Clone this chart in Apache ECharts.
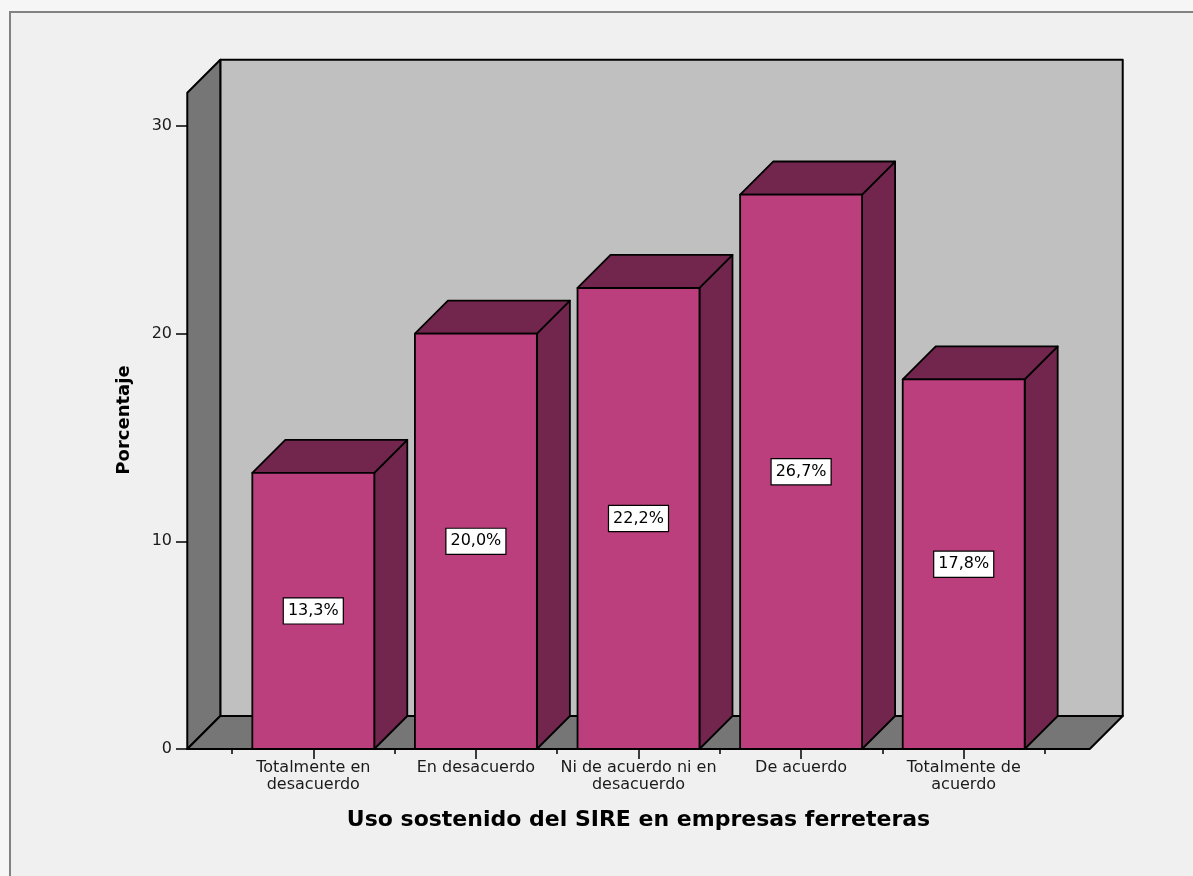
<!DOCTYPE html>
<html>
<head>
<meta charset="utf-8">
<title>Uso sostenido del SIRE en empresas ferreteras</title>
<script src="https://cdn.jsdelivr.net/npm/echarts@6/dist/echarts.min.js"></script>
<style>
  html, body { margin: 0; padding: 0; background: #f6f6f6; }
  #chart { width: 1193px; height: 876px; }
</style>
</head>
<body>
<div id="chart"></div>
<script>
// Categories (x axis), percentages per category, y tick values
const categories = [
  'Totalmente en\ndesacuerdo',
  'En desacuerdo',
  'Ni de acuerdo ni en\ndesacuerdo',
  'De acuerdo',
  'Totalmente de\nacuerdo'
];
const percentages = [13.3, 20.0, 22.2, 26.7, 17.8];
const yTicks = [0, 10, 20, 30];

const xTitle = 'Uso sostenido del SIRE en empresas ferreteras';
const yTitle = 'Porcentaje';

// 3D box geometry, as fractions of one category band
const DEPTH = 0.203;      // depth offset of bars and walls
const BAR_HALF = 0.375;   // half of the bar's front width
const SIDE_PAD = 0.275;   // floor extension beyond the outer category edges
const WALL_TOP = 31.6;    // height of the walls in axis units

const FONT = '"DejaVu Sans", Verdana, sans-serif';
const TEXT = '#1a1a1a';

function fmtPct(v) {
  return v.toFixed(1).replace('.', ',') + '%';
}

function renderBox(params, api) {
  const n = categories.length;
  const band = api.size([1, 0])[0];
  const c0 = api.coord([0, 0]);
  const cN = api.coord([n - 1, 0]);
  const left = c0[0] - band * (0.5 + SIDE_PAD);
  const right = cN[0] + band * (0.5 + SIDE_PAD);
  const base = c0[1];
  const top = api.coord([0, WALL_TOP])[1];
  const d = band * DEPTH;
  const line = { stroke: '#000', lineWidth: 2, lineJoin: 'round' };
  return {
    type: 'group',
    children: [
      { type: 'polygon', shape: { points: [[left + d, top - d], [right + d, top - d], [right + d, base - d], [left + d, base - d]] },
        style: Object.assign({ fill: '#c0c0c0' }, line) },
      { type: 'polygon', shape: { points: [[left, base], [left, top], [left + d, top - d], [left + d, base - d]] },
        style: Object.assign({ fill: '#767676' }, line) },
      { type: 'polygon', shape: { points: [[left, base], [right, base], [right + d, base - d], [left + d, base - d]] },
        style: Object.assign({ fill: '#767676' }, line) }
    ]
  };
}

function renderBar(params, api) {
  const idx = api.value(0);
  const val = api.value(1);
  const band = api.size([1, 0])[0];
  const b = api.coord([idx, 0]);
  const t = api.coord([idx, val]);
  const cx = b[0];
  const base = b[1];
  const top = t[1];
  const hw = band * BAR_HALF;
  const d = band * DEPTH;
  const line = { stroke: '#000', lineWidth: 1.8, lineJoin: 'round' };
  return {
    type: 'group',
    children: [
      { type: 'polygon', shape: { points: [[cx + hw, top], [cx + hw + d, top - d], [cx + hw + d, base - d], [cx + hw, base]] },
        style: Object.assign({ fill: '#72264d' }, line) },
      { type: 'polygon', shape: { points: [[cx - hw, top], [cx - hw + d, top - d], [cx + hw + d, top - d], [cx + hw, top]] },
        style: Object.assign({ fill: '#72264d' }, line) },
      { type: 'rect', shape: { x: cx - hw, y: top, width: hw * 2, height: base - top },
        style: Object.assign({ fill: '#bb3f7c' }, line) },
      { type: 'text', x: cx, y: (top + base) / 2,
        style: {
          text: fmtPct(val), fill: '#000', font: '16px ' + FONT,
          align: 'center', verticalAlign: 'middle',
          backgroundColor: '#ffffff', borderColor: '#000', borderWidth: 1.2,
          padding: [5, 4, 4, 4]
        } }
    ]
  };
}

const chart = echarts.init(document.getElementById('chart'), null, { renderer: 'canvas' });

chart.setOption({
  animation: false,
  backgroundColor: '#f6f6f6',
  graphic: [
    { type: 'rect', z: -100, shape: { x: 10, y: 12, width: 1300, height: 1000 },
      style: { fill: '#f0f0f0', stroke: '#828282', lineWidth: 2 } },
    { type: 'text', x: 124, y: 420, rotation: Math.PI / 2,
      style: { text: yTitle, font: 'bold 18px ' + FONT, fill: '#000', align: 'center', verticalAlign: 'middle' } }
  ],
  grid: { left: 232, right: 148, top: 126, bottom: 127, containLabel: false },
  xAxis: [
    {
      type: 'category', data: categories, position: 'bottom',
      axisLine: { show: false },
      axisTick: { show: true, length: 5, alignWithLabel: false, lineStyle: { color: '#000', width: 1.5 } },
      axisLabel: { interval: 0, margin: 10, fontSize: 16, lineHeight: 17, fontFamily: FONT, color: TEXT },
      name: xTitle, nameLocation: 'middle', nameGap: 60,
      nameTextStyle: { fontSize: 22, fontWeight: 'bold', fontFamily: FONT, color: '#000' }
    },
    {
      type: 'category', data: categories, position: 'bottom',
      axisLine: { show: false },
      axisTick: { show: true, length: 10, alignWithLabel: true, lineStyle: { color: '#000', width: 1.5 } },
      axisLabel: { show: false }
    }
  ],
  yAxis: {
    type: 'value', min: yTicks[0], max: yTicks[yTicks.length - 1], interval: yTicks[1] - yTicks[0],
    offset: 45,
    axisLine: { show: false },
    axisTick: { show: true, length: 11, lineStyle: { color: '#000', width: 1.5 } },
    axisLabel: { margin: 15, fontSize: 16, fontFamily: FONT, color: TEXT },
    splitLine: { show: false }
  },
  series: [
    {
      type: 'custom', name: 'box', clip: false, silent: true, z: 1,
      xAxisIndex: 0, yAxisIndex: 0,
      renderItem: renderBox,
      data: [[0, 0]]
    },
    {
      type: 'custom', name: 'Porcentaje', clip: false, z: 2,
      xAxisIndex: 0, yAxisIndex: 0,
      encode: { x: 0, y: 1 },
      renderItem: renderBar,
      data: percentages.map((v, i) => [i, v])
    }
  ]
});
</script>
</body>
</html>
